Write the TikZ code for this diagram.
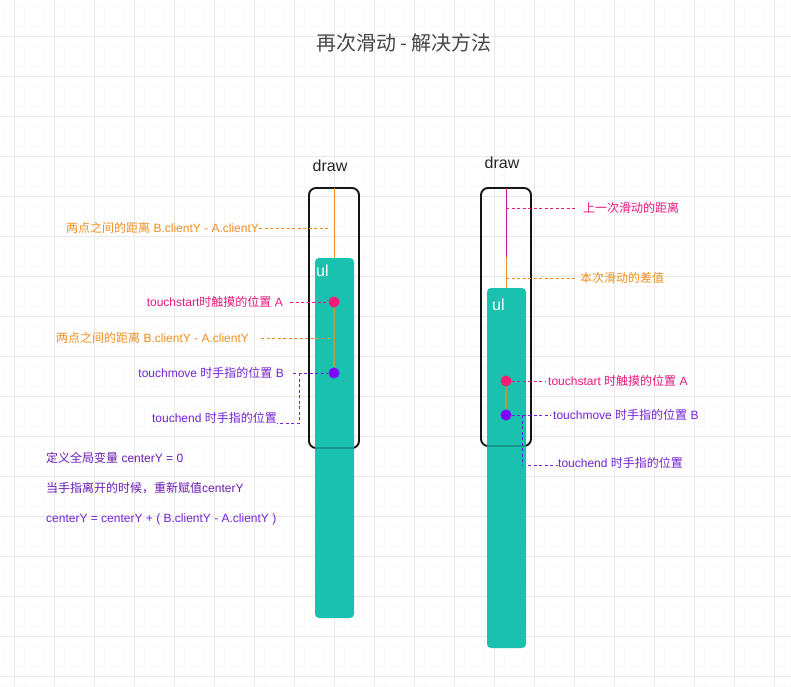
\documentclass[tikz,border=0pt]{standalone}
\usepackage{fontspec}
\setmainfont{Liberation Sans}
\newfontfamily\cjk{Noto Sans CJK SC}
\definecolor{tealF}{HTML}{1AC1AE}
\definecolor{tealD}{HTML}{12968A}
\definecolor{orangeT}{HTML}{EE8F22}
\definecolor{pinkT}{HTML}{E8187C}
\definecolor{pinkD}{HTML}{FF1A75}
\definecolor{purpD}{HTML}{7F00FF}
\definecolor{purpT}{HTML}{7422D6}
\definecolor{purpB}{HTML}{6A1CB4}
\definecolor{magL}{HTML}{C01C90}
\definecolor{blueD}{HTML}{4A2BD8}
\definecolor{oliveL}{HTML}{B89A3A}
\definecolor{gridM}{HTML}{E8E8E8}
\definecolor{gridm}{HTML}{FAFAFA}
\begin{document}
\begin{tikzpicture}[x=1pt,y=-1pt,
  lbl/.style={inner sep=0pt, font=\fontsize{12}{14}\selectfont},
  dsh/.style={line width=1pt, dash pattern=on 3pt off 2.5pt},
  dot/.style={circle, inner sep=0pt, minimum size=11pt},
  frame/.style={draw=black!92, line width=1.9pt, rounded corners=7pt},
  ulbox/.style={fill=tealF, rounded corners=4pt},
  bigtxt/.style={inner sep=0pt, font=\fontsize{16}{18}\selectfont}]
\useasboundingbox (0,0) rectangle (791,686);
\fill[white] (0,0) rectangle (791,686);
\foreach \x in {4,24,...,784} \draw[gridm, line width=0.5pt] (\x,0) -- (\x,686);
\foreach \y in {6,26,...,686} \draw[gridm, line width=0.5pt] (0,\y) -- (791,\y);
\foreach \x in {14,54,...,774} \draw[gridM, line width=0.7pt] (\x,0) -- (\x,686);
\foreach \y in {36,76,...,676} \draw[gridM, line width=0.7pt] (0,\y) -- (791,\y);

% title
\node[inner sep=0pt, text=black!72, font=\cjk\fontsize{20}{22}\selectfont] (title) at (404,43) {再次滑动 - 解决方法};

% ===== left column =====
\node[bigtxt, text=black!85] (draw1) at (330,166) {draw};
\draw[frame] (309,188) rectangle (359,448);
\coordinate (f1top) at (334,188);
\path[ulbox] (315,258) rectangle (354,618);
\draw[tealD, line width=1.2pt] (315,448) -- (354,448);
\coordinate (u1top) at (334,258);
\node[bigtxt, text=white, anchor=west] (ul1) at (316,271) {ul};
\draw[orangeT, line width=1pt] (f1top) -- (u1top);
\node[dot, fill=pinkD] (a1) at (334,302) {};
\node[dot, fill=purpD] (b1) at (334,373) {};
\draw[oliveL, line width=1.2pt] (a1) -- (b1);

\node[lbl, anchor=west, text=orangeT] (d1) at (66,228) {{\cjk 两点之间的距离} B.clientY - A.clientY};
\coordinate (d1e) at (329,228);
\draw[dsh, orangeT] (d1.east) -- (d1e);

\node[lbl, anchor=east, text=pinkT] (ta1) at (283,302) {touchstart{\cjk 时触摸的位置} A};
\draw[dsh, pinkT] ([xshift=7pt]ta1.east) -- (a1);

\node[lbl, anchor=west, text=orangeT] (d2) at (56,338) {{\cjk 两点之间的距离} B.clientY - A.clientY};
\coordinate (d2e) at (330,338);
\draw[dsh, orangeT] ([xshift=12pt]d2.east) -- (d2e);

\node[lbl, anchor=east, text=purpT] (tb1) at (284,373) {touchmove {\cjk 时手指的位置} B};
\draw[dsh, purpT] ([xshift=9pt]tb1.east) -- (b1);

\node[lbl, anchor=east, text=purpT] (te1) at (277,418) {touchend {\cjk 时手指的位置}};
\coordinate (e1) at (299,373);
\coordinate (e1b) at (299,423);
\draw[dsh, purpT] (e1) -- (e1b) -- ([yshift=-5pt]te1.east);

\node[lbl, anchor=west, text=purpB] (n1) at (46,458) {{\cjk 定义全局变量} centerY = 0};
\node[lbl, anchor=west, text=purpB] (n2) at (46,488) {{\cjk 当手指离开的时候，重新赋值}centerY};
\node[lbl, anchor=west, text=purpT] (n3) at (46,519) {centerY = centerY + ( B.clientY - A.clientY )};

% ===== right column =====
\node[bigtxt, text=black!85] (draw2) at (502,163) {draw};
\draw[frame] (481,188) rectangle (531,446);
\coordinate (f2top) at (506,188);
\coordinate (f2mid) at (506,257);
\path[ulbox] (487,288) rectangle (526,648);
\draw[tealD, line width=1.2pt] (487,446) -- (526,446);
\coordinate (u2top) at (506,288);
\node[bigtxt, text=white, anchor=west] (ul2) at (492,305) {ul};
\draw[magL, line width=1pt] (f2top) -- (f2mid);
\draw[orangeT, line width=1pt] (f2mid) -- (u2top);

\coordinate (p1) at (506,208);
\node[lbl, anchor=west, text=pinkT] (s1) at (583,208) {\cjk 上一次滑动的距离};
\draw[dsh, pinkT] (p1) -- ([xshift=-7pt]s1.west);

\coordinate (p2) at (506,278);
\node[lbl, anchor=west, text=orangeT] (s2) at (580,278) {\cjk 本次滑动的差值};
\draw[dsh, orangeT] (p2) -- ([xshift=-5pt]s2.west);

\node[dot, fill=pinkD] (a2) at (506,381) {};
\node[dot, fill=purpD] (b2) at (506,415) {};
\draw[oliveL, line width=1.2pt] (a2) -- (b2);

\node[lbl, anchor=west, text=pinkT] (ta2) at (548,381) {touchstart {\cjk 时触摸的位置} A};
\draw[dsh, pinkT] (a2) -- ([xshift=-3pt]ta2.west);

\node[lbl, anchor=west, text=purpT] (tb2) at (553,415) {touchmove {\cjk 时手指的位置} B};
\draw[dsh, purpT] (b2) -- ([xshift=-2pt]tb2.west);

\node[lbl, anchor=west, text=purpT] (te2) at (558,463) {touchend {\cjk 时手指的位置}};
\coordinate (e2) at (522,415);
\coordinate (e2b) at (522,465);
\coordinate (e2c) at (528,465);
\draw[dsh, blueD] (e2) -- (e2b);
\draw[dsh, purpT] (e2c) -- (e2c -| te2.west);
\end{tikzpicture}
\end{document}
